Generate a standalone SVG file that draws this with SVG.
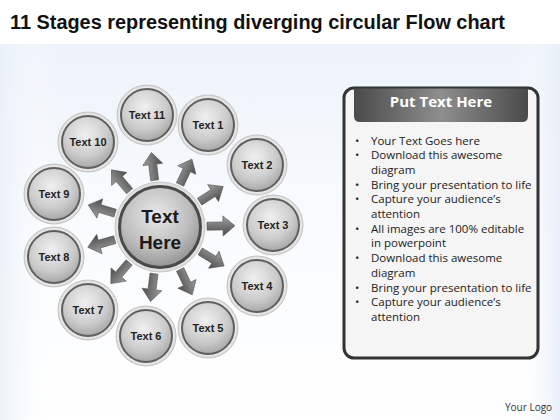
<svg xmlns="http://www.w3.org/2000/svg" xmlns:xlink="http://www.w3.org/1999/xlink" width="560" height="420" viewBox="0 0 560 420">
<defs>
<linearGradient id="bg" x1="0" y1="0" x2="0" y2="1">
<stop offset="0" stop-color="#edf3fa"/><stop offset="0.5" stop-color="#f9fbfe"/><stop offset="1" stop-color="#ffffff"/>
</linearGradient>
<linearGradient id="bgside" x1="0" y1="0" x2="1" y2="0">
<stop offset="0" stop-color="#e8f0f8" stop-opacity="0.8"/><stop offset="0.1" stop-color="#ffffff" stop-opacity="0"/><stop offset="0.92" stop-color="#ffffff" stop-opacity="0"/><stop offset="1" stop-color="#e6eef8" stop-opacity="0.9"/>
</linearGradient>
<radialGradient id="disc" cx="0.45" cy="0.35" r="0.7">
<stop offset="0" stop-color="#f0f0f0"/><stop offset="0.6" stop-color="#cccccc"/><stop offset="1" stop-color="#a0a0a0"/>
</radialGradient>
<radialGradient id="ring" cx="0.5" cy="0.5" r="0.5">
<stop offset="0.8" stop-color="#ffffff"/><stop offset="1" stop-color="#d8d8d8"/>
</radialGradient>
<radialGradient id="hub" cx="0.45" cy="0.35" r="0.7">
<stop offset="0" stop-color="#e8e8e8"/><stop offset="0.6" stop-color="#bdbdbd"/><stop offset="1" stop-color="#8c8c8c"/>
</radialGradient>
<linearGradient id="arrg" x1="0" y1="0" x2="0" y2="1">
<stop offset="0" stop-color="#a0a0a0"/><stop offset="1" stop-color="#4a4a4a"/>
</linearGradient>
<linearGradient id="hdr" x1="0" y1="0" x2="1" y2="0">
<stop offset="0" stop-color="#4a4a4a"/><stop offset="0.5" stop-color="#8e8e8e"/><stop offset="1" stop-color="#4a4a4a"/>
</linearGradient>
<path id="arr" d="M0,-4 L16,-4 L16,-10 L28,0 L16,10 L16,4 L0,4 Z" fill="url(#arrg)" stroke="#555" stroke-width="0.6"/>
<style>
.ring{fill:url(#ring);stroke:#c4c4c4;stroke-width:1}
.disc{fill:url(#disc);stroke:#5e5e5e;stroke-width:2}
.lbl{font-family:"Liberation Sans",Arial,sans-serif;font-weight:bold;font-size:11px;fill:#222;text-anchor:middle}
.hubt{font-family:"Liberation Sans",Arial,sans-serif;font-weight:bold;font-size:19px;fill:#1a1a1a;text-anchor:middle}
.body{font-family:"Open Sans","Liberation Sans",sans-serif;font-size:11.5px;fill:#222}
</style>
</defs>
<rect width="560" height="420" fill="#ffffff"/>
<rect x="0" y="44" width="560" height="376" fill="url(#bg)"/>
<rect x="0" y="44" width="560" height="376" fill="url(#bgside)"/>
<text x="10" y="29" font-family="Liberation Sans, Arial, sans-serif" font-weight="bold" font-size="20" fill="#111" textLength="495" lengthAdjust="spacingAndGlyphs">11 Stages representing diverging circular Flow chart</text>

<g id="connectors">
<use xlink:href="#arr" transform="translate(160,227) rotate(-96.6) translate(47,0)"/>
<use xlink:href="#arr" transform="translate(160,227) rotate(-64.8) translate(47,0)"/>
<use xlink:href="#arr" transform="translate(160,227) rotate(-32.6) translate(47,0)"/>
<use xlink:href="#arr" transform="translate(160,227) rotate(-1) translate(47,0)"/>
<use xlink:href="#arr" transform="translate(160,227) rotate(31.3) translate(47,0)"/>
<use xlink:href="#arr" transform="translate(160,227) rotate(64.6) translate(47,0)"/>
<use xlink:href="#arr" transform="translate(160,227) rotate(97.3) translate(47,0)"/>
<use xlink:href="#arr" transform="translate(160,227) rotate(131) translate(47,0)"/>
<use xlink:href="#arr" transform="translate(160,227) rotate(164.3) translate(47,0)"/>
<use xlink:href="#arr" transform="translate(160,227) rotate(197.1) translate(47,0)"/>
<use xlink:href="#arr" transform="translate(160,227) rotate(229.7) translate(47,0)"/>
</g>

<g id="hub">
<circle cx="160" cy="227" r="45" fill="url(#ring)" stroke="#c8c8c8"/>
<circle cx="160" cy="227" r="40.5" fill="url(#hub)" stroke="#4a4a4a" stroke-width="3"/>
<text class="hubt" x="160" y="223">Text</text>
<text class="hubt" x="160" y="249">Here</text>
</g>

<g id="n11"><circle class="ring" cx="147" cy="115" r="30"/><circle class="disc" cx="147" cy="115" r="26"/><text class="lbl" x="147" y="119">Text 11</text></g>
<g id="n1"><circle class="ring" cx="208" cy="125" r="30"/><circle class="disc" cx="208" cy="125" r="26"/><text class="lbl" x="208" y="129">Text 1</text></g>
<g id="n2"><circle class="ring" cx="257" cy="165" r="30"/><circle class="disc" cx="257" cy="165" r="26"/><text class="lbl" x="257" y="169">Text 2</text></g>
<g id="n3"><circle class="ring" cx="273" cy="225" r="30"/><circle class="disc" cx="273" cy="225" r="26"/><text class="lbl" x="273" y="229">Text 3</text></g>
<g id="n4"><circle class="ring" cx="257" cy="286" r="30"/><circle class="disc" cx="257" cy="286" r="26"/><text class="lbl" x="257" y="290">Text 4</text></g>
<g id="n5"><circle class="ring" cx="208" cy="328" r="30"/><circle class="disc" cx="208" cy="328" r="26"/><text class="lbl" x="208" y="332">Text 5</text></g>
<g id="n6"><circle class="ring" cx="146" cy="336" r="30"/><circle class="disc" cx="146" cy="336" r="26"/><text class="lbl" x="146" y="340">Text 6</text></g>
<g id="n7"><circle class="ring" cx="88" cy="310" r="30"/><circle class="disc" cx="88" cy="310" r="26"/><text class="lbl" x="88" y="314">Text 7</text></g>
<g id="n8"><circle class="ring" cx="54" cy="257" r="30"/><circle class="disc" cx="54" cy="257" r="26"/><text class="lbl" x="54" y="261">Text 8</text></g>
<g id="n9"><circle class="ring" cx="54" cy="194" r="30"/><circle class="disc" cx="54" cy="194" r="26"/><text class="lbl" x="54" y="198">Text 9</text></g>
<g id="n10"><circle class="ring" cx="88" cy="142" r="30"/><circle class="disc" cx="88" cy="142" r="26"/><text class="lbl" x="88" y="146">Text 10</text></g>

<g id="panel">
<rect x="344" y="88" width="194" height="270" rx="10" fill="#f5f5f5" stroke="#333" stroke-width="3"/>
<path d="M354,88.5 L528,88.5 L528,116 Q528,122 522,122 L360,122 Q354,122 354,116 Z" fill="url(#hdr)"/>
<text x="441" y="107" font-family="Open Sans, Liberation Sans, sans-serif" font-weight="bold" font-size="15" fill="#ffffff" text-anchor="middle">Put Text Here</text>
<g class="body">
<text x="355" y="144.5">•</text><text x="371" y="144.5">Your Text Goes here</text>
<text x="355" y="159.2">•</text><text x="371" y="159.2">Download this awesome</text>
<text x="371" y="173.9">diagram</text>
<text x="355" y="188.6">•</text><text x="371" y="188.6">Bring your presentation to life</text>
<text x="355" y="203.3">•</text><text x="371" y="203.3">Capture your audience’s</text>
<text x="371" y="218">attention</text>
<text x="355" y="232.7">•</text><text x="371" y="232.7">All images are 100% editable</text>
<text x="371" y="247.4">in powerpoint</text>
<text x="355" y="262.1">•</text><text x="371" y="262.1">Download this awesome</text>
<text x="371" y="276.8">diagram</text>
<text x="355" y="291.5">•</text><text x="371" y="291.5">Bring your presentation to life</text>
<text x="355" y="306.2">•</text><text x="371" y="306.2">Capture your audience’s</text>
<text x="371" y="320.9">attention</text>
</g>
</g>
<text x="505" y="411" font-family="Open Sans, Liberation Sans, sans-serif" font-size="10" fill="#333">Your Logo</text>
</svg>
